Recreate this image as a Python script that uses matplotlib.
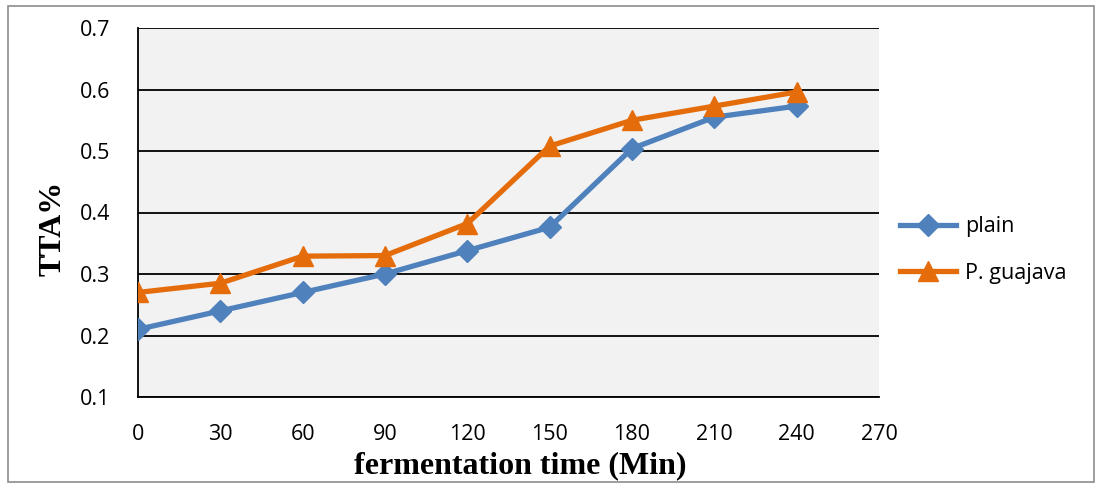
"""TTA % during fermentation: plain vs P. guajava."""
import matplotlib
matplotlib.use('Agg')
import matplotlib.pyplot as plt
from matplotlib.patches import Rectangle

time_min = [0, 30, 60, 90, 120, 150, 180, 210, 240]
tta_plain = [0.21, 0.24, 0.27, 0.30, 0.338, 0.376, 0.504, 0.555, 0.573]
tta_guajava = [0.27, 0.285, 0.329, 0.33, 0.382, 0.508, 0.55, 0.573, 0.596]

x_ticks = [0, 30, 60, 90, 120, 150, 180, 210, 240, 270]
y_ticks = [0.1, 0.2, 0.3, 0.4, 0.5, 0.6, 0.7]

BLUE = '#4F81BD'
ORANGE = '#E46C0A'
TICK_FONT = 'Open Sans'
LABEL_FONT = 'Liberation Serif'

fig = plt.figure(figsize=(11.01, 4.88), dpi=100)
fig.patch.set_facecolor('white')

# grey frame round the whole chart
fig.patches.append(Rectangle((8 / 1101, 6 / 488), 1086 / 1101, 476 / 488,
                             transform=fig.transFigure, fill=False,
                             edgecolor='#8c8c8c', linewidth=1.2))

ax = fig.add_axes([138 / 1101, 1 - 397 / 488, 741 / 1101, 369 / 488])
ax.set_facecolor('#F2F2F2')

ax.plot(time_min, tta_plain, color=BLUE, linewidth=3.8, marker='D',
        markersize=11, label='plain', zorder=3)
ax.plot(time_min, tta_guajava, color=ORANGE, linewidth=3.8, marker='^',
        markersize=14, label='P. guajava', zorder=4)

ax.set_xlim(0, 270)
ax.set_ylim(0.1, 0.7)
ax.set_xticks(x_ticks)
ax.set_yticks(y_ticks)
ax.set_yticklabels([f'{v:.1f}' for v in y_ticks])
ax.tick_params(axis='both', length=0, labelsize=15.5)
ax.tick_params(axis='y', pad=20)
ax.tick_params(axis='x', pad=19.5)
for lab in ax.get_xticklabels() + ax.get_yticklabels():
    lab.set_fontfamily(TICK_FONT)

ax.grid(axis='y', color='black', linewidth=1.3)
ax.set_axisbelow(True)
for side in ['top', 'right']:
    ax.spines[side].set_visible(False)
for side in ['left', 'bottom']:
    ax.spines[side].set_color('black')
    ax.spines[side].set_linewidth(1.3)

ax.set_xlabel('fermentation time (Min)', fontfamily=LABEL_FONT,
              fontweight='bold', fontsize=23)
ax.xaxis.set_label_coords((520 - 138) / 741, (397 - 466) / 369)
ax.xaxis.label.set_va('center')
ax.set_ylabel('TTA%', fontfamily=LABEL_FONT, fontweight='bold', fontsize=23)
ax.yaxis.set_label_coords((53 - 138) / 741, (397 - 228) / 369)
ax.yaxis.label.set_va('center')

ax.legend(loc='center left', bbox_to_anchor=(891 / 1101, 1 - 250 / 488),
          bbox_transform=fig.transFigure, frameon=False, borderaxespad=0,
          prop={'family': TICK_FONT, 'size': 15.5}, handlelength=2.6,
          labelspacing=1.2, handletextpad=0.45)

fig.savefig('out.png', dpi=100)
